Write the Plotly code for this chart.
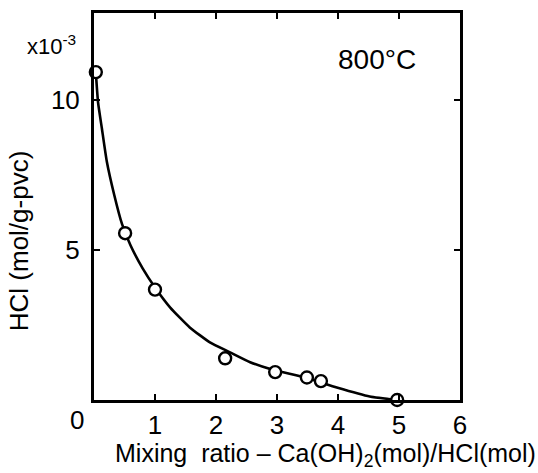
import plotly.graph_objects as go

# Measured data points (mixing ratio vs HCl, x10^-3 mol/g-pvc)
pts_x = [0.03, 0.51, 1.0, 2.15, 2.97, 3.49, 3.72, 4.97]
pts_y = [10.93, 5.56, 3.68, 1.39, 0.93, 0.75, 0.63, 0.0]

# Hand-drawn fitted curve
curve_x = [0.03, 0.066, 0.13, 0.21, 0.33, 0.46, 0.6, 0.8, 1.0, 1.25, 1.57, 1.9,
           2.23, 2.56, 2.89, 3.49, 3.98, 4.52, 4.97]
curve_y = [10.93, 9.93, 9.04, 7.95, 6.85, 5.86, 5.15, 4.38, 3.75, 3.08, 2.42, 1.92,
           1.59, 1.26, 1.03, 0.73, 0.42, 0.12, 0.0]

x_ticks = [1, 2, 3, 4, 5, 6]
y_ticks = [5, 10]

FONT = "Liberation Sans"

fig = go.Figure()
fig.add_trace(go.Scatter(x=curve_x, y=curve_y, mode="lines",
                         line=dict(color="black", width=2.6, shape="spline", smoothing=0.5),
                         hoverinfo="skip", showlegend=False, cliponaxis=False))
fig.add_trace(go.Scatter(x=pts_x, y=pts_y, mode="markers",
                         marker=dict(symbol="circle", size=12, color="white",
                                     line=dict(color="black", width=2.4)),
                         showlegend=False, cliponaxis=False))

fig.update_layout(
    width=538, height=473,
    margin=dict(l=94, r=78, t=10, b=73),
    paper_bgcolor="white", plot_bgcolor="white",
    font=dict(family=FONT, color="black", size=26),
    xaxis=dict(range=[0, 6], tickvals=x_ticks, ticktext=[str(v) for v in x_ticks],
               showgrid=False, zeroline=False, showline=True, linewidth=3, linecolor="black",
               mirror="ticks", ticks="inside", ticklen=6, tickwidth=2, tickcolor="black",
               tickfont=dict(size=26), ticklabelstandoff=0),
    yaxis=dict(range=[0, 12.9], tickvals=y_ticks, ticktext=[str(v) for v in y_ticks],
               showgrid=False, zeroline=False, showline=True, linewidth=3, linecolor="black",
               mirror="ticks", ticks="inside", ticklen=6, tickwidth=2, tickcolor="black",
               tickfont=dict(size=26), ticklabelstandoff=6),
)

# axis titles placed as annotations (positions in plot-area fractions)
fig.add_annotation(x=(325 - 94) / 366, y=(400 - 455) / 390, xref="paper", yref="paper",
                   text="Mixing  ratio – Ca(OH)<sub>2</sub>(mol)/HCl(mol)", showarrow=False,
                   xanchor="center", yanchor="middle", font=dict(size=25))
fig.add_annotation(x=(19 - 94) / 366, y=(400 - 240) / 390, xref="paper", yref="paper",
                   text="HCl (mol/g-pvc)", showarrow=False, textangle=-90,
                   xanchor="center", yanchor="middle", font=dict(size=26))
fig.add_annotation(x=0, y=0, xref="x", yref="y", text="0", showarrow=False,
                   xanchor="center", yanchor="middle", xshift=-17, yshift=-20,
                   font=dict(size=26))
fig.add_annotation(x=(78 - 94) / 366, y=(400 - 42) / 390, xref="paper", yref="paper",
                   text="x10<sup>-3</sup>", showarrow=False, xanchor="right", yanchor="middle",
                   font=dict(size=22))
fig.add_annotation(x=4.64, y=11.36, xref="x", yref="y", text="800°C", showarrow=False,
                   xanchor="center", yanchor="middle", font=dict(size=28))

fig.write_html("out.html")
